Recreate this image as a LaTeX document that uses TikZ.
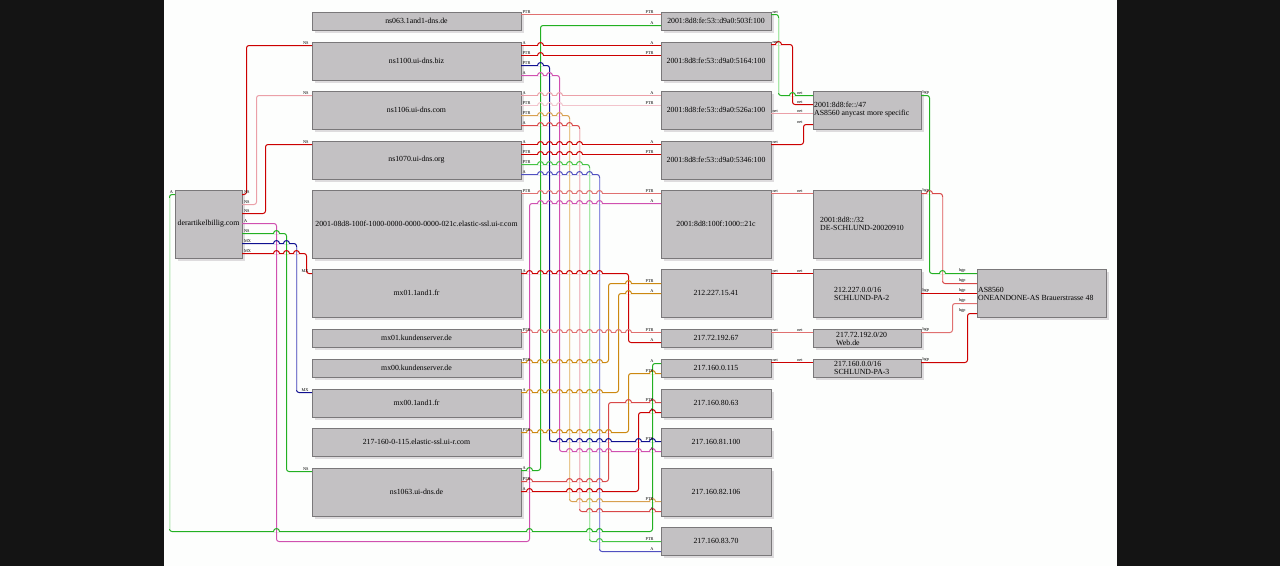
\documentclass[tikz,border=0pt]{standalone}
\usepackage{fontspec}
\setmainfont{Liberation Serif}
\usetikzlibrary{shadows}
\definecolor{barc}{HTML}{141414}
\definecolor{bgc}{HTML}{FDFEFD}
\definecolor{boxc}{HTML}{C3C1C3}
\definecolor{shadc}{HTML}{DEDCDE}
\definecolor{bordc}{HTML}{7A787A}
\definecolor{cred}{HTML}{CC0000}
\definecolor{cred2}{HTML}{D84848}
\definecolor{csal}{HTML}{E07070}
\definecolor{cpink}{HTML}{EBA0A8}
\definecolor{cpale}{HTML}{F2C4CC}
\definecolor{cmag}{HTML}{D050B0}
\definecolor{cblue}{HTML}{101090}
\definecolor{cblu2}{HTML}{5050C0}
\definecolor{cgrn}{HTML}{22B022}
\definecolor{cgrn2}{HTML}{44C444}
\definecolor{corg}{HTML}{CC8810}
\definecolor{corl}{HTML}{D8A050}
\definecolor{vgrnA}{HTML}{C8F0C8}
\definecolor{vgrnB}{HTML}{A8E8A8}
\definecolor{vbluA}{HTML}{8080D0}
\definecolor{vbluB}{HTML}{9090E0}
\definecolor{vorl}{HTML}{E8C890}
\definecolor{vred}{HTML}{F0C0C8}
\definecolor{vsal}{HTML}{E89090}
\tikzset{
  box/.style={rectangle, fill=boxc, draw=bordc, line width=0.5pt, inner sep=0pt, outer sep=0pt,
    general shadow={fill=shadc, shadow xshift=2.5pt, shadow yshift=-2.5pt},
    font=\fontsize{7.8}{8.4}\selectfont, align=center},
  txt/.style={font=\fontsize{7.8}{8}\selectfont, align=left, inner sep=0pt},
  edge/.style={line width=1pt, rounded corners=2.5pt},
  pl/.style={font=\fontsize{4.3}{5}\selectfont, inner sep=0.3pt},
  sl/.style={pl, anchor=south west, xshift=#1pt, yshift=0.3pt},
  sl/.default=1,
  el/.style={pl, anchor=south east, xshift=-#1pt, yshift=0.3pt},
  el/.default=7
}
\newcommand\bx[6]{\node[box, minimum width={#4pt-#2pt}, minimum height={#5pt-#3pt}] (#1) at ({(#2+#4)/2},{(#3+#5)/2}) {#6};}
\newcommand\hop[4]{%
  \fill[bgc] ({#1-2.8},{#2-0.9}) rectangle ({#1+2.8},{#2+0.9});
  \draw[color=#4, line width=1pt] (#1,{#2-1.4}) -- (#1,{#2+1.4});
  \draw[color=#3, line width=1pt] ({#1-3},#2) arc[start angle=180,end angle=0,radius=3pt];}
\newcommand\hoprow[3]{\foreach \hx/\vc in {#3}{\hop{\hx}{#1}{#2}{\vc}}}
\newcommand\vov[4]{\draw[color=#4, line width=1pt] (#1,#2) -- (#1,#3);}
\newcount\labn
\newcommand\lbS[4][1]{\global\advance\labn by 1 \node[sl=#1] (labS\the\labn) at (#2 |- 0,#3) {#4};}
\newcommand\lbE[4][7]{\global\advance\labn by 1 \node[el=#1] (labE\the\labn) at (#2 |- 0,#3) {#4};}
\begin{document}
\begin{tikzpicture}[x=1pt,y=-1pt]
\useasboundingbox (0,0) rectangle (1280,566);
\fill[barc] (0,0) rectangle (164,566);
\fill[bgc] (164,0) rectangle (1117,566);
\fill[barc] (1117,0) rectangle (1280,566);
% boxes
\bx{dom}{175}{190}{242}{258}{derartikelbillig.com}
\bx{n1}{312}{12}{521}{30}{ns063.1and1-dns.de}
\bx{n2}{312}{42}{521}{80}{ns1100.ui-dns.biz}
\bx{n3}{312}{91}{521}{129}{ns1106.ui-dns.com}
\bx{n4}{312}{141}{521}{179}{ns1070.ui-dns.org}
\bx{n5}{312}{190}{521}{258}{2001-08d8-100f-1000-0000-0000-0000-021c.elastic-ssl.ui-r.com}
\bx{n6}{312}{269}{521}{317}{mx01.1and1.fr}
\bx{n7}{312}{329}{521}{347}{mx01.kundenserver.de}
\bx{n8}{312}{359}{521}{377}{mx00.kundenserver.de}
\bx{n9}{312}{389}{521}{417}{mx00.1and1.fr}
\bx{n10}{312}{428}{521}{456}{217-160-0-115.elastic-ssl.ui-r.com}
\bx{n11}{312}{468}{521}{516}{ns1063.ui-dns.de}
\bx{a}{661}{12}{771}{30}{2001:8d8:fe:53::d9a0:503f:100}
\bx{b}{661}{42}{771}{80}{2001:8d8:fe:53::d9a0:5164:100}
\bx{c}{661}{91}{771}{129}{2001:8d8:fe:53::d9a0:526a:100}
\bx{d}{661}{141}{771}{179}{2001:8d8:fe:53::d9a0:5346:100}
\bx{e}{661}{190}{771}{258}{2001:8d8:100f:1000::21c}
\bx{f}{661}{269}{771}{317}{212.227.15.41}
\bx{g}{661}{329}{771}{347}{217.72.192.67}
\bx{h}{661}{359}{771}{377}{217.160.0.115}
\bx{i}{661}{389}{771}{417}{217.160.80.63}
\bx{j}{661}{428}{771}{456}{217.160.81.100}
\bx{k}{661}{468}{771}{516}{217.160.82.106}
\bx{l}{661}{527}{771}{555}{217.160.83.70}
\bx{p47}{813}{91}{921}{129}{}
\bx{p32}{813}{190}{921}{258}{}
\bx{p212}{813}{269}{921}{317}{}
\bx{p217a}{813}{329}{921}{347}{}
\bx{p217b}{813}{359}{921}{377}{}
\bx{as}{977}{269}{1106}{317}{}
\node[txt, anchor=west] (p47t) at (814,110) {2001:8d8:fe::/47\\AS8560 anycast more specific};
\node[txt, anchor=west] (p32t) at (820,224) {2001:8d8::/32\\DE-SCHLUND-20020910};
\node[txt, anchor=west] (p212t) at (834,293.5) {212.227.0.0/16\\SCHLUND-PA-2};
\node[txt, anchor=west] (p217at) at (836,338.5) {217.72.192.0/20\\Web.de};
\node[txt, anchor=west] (p217bt) at (834,367.5) {217.160.0.0/16\\SCHLUND-PA-3};
\node[txt, anchor=west] (ast) at (978,293.5) {AS8560\\ONEANDONE-AS Brauerstrasse 48};
\begin{scope}[xshift=0.5pt, yshift=-0.5pt]
% edges from the domain
\draw[edge, draw=cred] (dom.east |- 0,194) -- (246,194) -- (246,45) -- (n2.west |- 0,45);
\draw[edge, draw=cpink] (dom.east |- 0,204) -- (256,204) -- (256,95) -- (n3.west |- 0,95);
\draw[edge, draw=cred] (dom.east |- 0,213) -- (265,213) -- (265,144) -- (n4.west |- 0,144);
\draw[edge, draw=cmag] (dom.east |- 0,223) -- (276,223) -- (276,541) -- (529,541) -- (529,203) -- (e.west |- 0,203);
\draw[edge, draw=cgrn] (dom.east |- 0,233) -- (286,233) -- (286,471) -- (n11.west |- 0,471);
\draw[edge, draw=cblue] (dom.east |- 0,243) -- (296,243) -- (296,392) -- (n9.west |- 0,392);
\draw[edge, draw=cred] (dom.east |- 0,253) -- (306,253) -- (306,273) -- (n6.west |- 0,273);
\draw[edge, draw=cgrn] (dom.west |- 0,194) -- (169,194) -- (169,531) -- (652,531) -- (652,363) -- (h.west |- 0,363);
% hostnames to addresses
\draw[edge, draw=csal] (n1.east |- 0,14) -- (a.west |- 0,14);
\draw[edge, draw=cgrn] (n11.east |- 0,470) -- (540,470) -- (540,25) -- (a.west |- 0,25);
\draw[edge, draw=cred] (n2.east |- 0,45) -- (b.west |- 0,45);
\draw[edge, draw=cred] (n2.east |- 0,55) -- (b.west |- 0,55);
\draw[edge, draw=cblue] (n2.east |- 0,65) -- (549,65) -- (549,441) -- (j.west |- 0,441);
\draw[edge, draw=cmag] (n2.east |- 0,75) -- (559,75) -- (559,451) -- (j.west |- 0,451);
\draw[edge, draw=cpink] (n3.east |- 0,95) -- (c.west |- 0,95);
\draw[edge, draw=cpale] (n3.east |- 0,105) -- (c.west |- 0,105);
\draw[edge, draw=corl] (n3.east |- 0,115) -- (569,115) -- (569,501) -- (k.west |- 0,501);
\draw[edge, draw=cred2] (n3.east |- 0,125) -- (579,125) -- (579,511) -- (k.west |- 0,511);
\draw[edge, draw=cred] (n4.east |- 0,144) -- (d.west |- 0,144);
\draw[edge, draw=cred] (n4.east |- 0,154) -- (d.west |- 0,154);
\draw[edge, draw=cgrn2] (n4.east |- 0,164) -- (589,164) -- (589,541) -- (l.west |- 0,541);
\draw[edge, draw=cblu2] (n4.east |- 0,174) -- (599,174) -- (599,551) -- (l.west |- 0,551);
\draw[edge, draw=csal] (n5.east |- 0,193) -- (e.west |- 0,193);
\draw[edge, draw=cred] (n6.east |- 0,273) -- (628,273) -- (628,342) -- (g.west |- 0,342);
\draw[edge, draw=csal] (n7.east |- 0,332) -- (g.west |- 0,332);
\draw[edge, draw=corg] (n8.east |- 0,362) -- (608,362) -- (608,283) -- (f.west |- 0,283);
\draw[edge, draw=corg] (n9.east |- 0,392) -- (618,392) -- (618,293) -- (f.west |- 0,293);
\draw[edge, draw=corg] (n10.east |- 0,432) -- (628,432) -- (628,373) -- (h.west |- 0,373);
\draw[edge, draw=cred2] (n11.east |- 0,481) -- (608,481) -- (608,402) -- (i.west |- 0,402);
\draw[edge, draw=cred] (n11.east |- 0,491) -- (638,491) -- (638,412) -- (i.west |- 0,412);
% addresses to prefixes
\draw[edge, draw=cgrn] (a.east |- 0,14) -- (778,14) -- (778,95) -- (p47.west |- 0,95);
\draw[edge, draw=cred] (b.east |- 0,44) -- (792,44) -- (792,104) -- (p47.west |- 0,104);
\draw[edge, draw=cpink] (c.east |- 0,113) -- (p47.west |- 0,113);
\draw[edge, draw=cred] (d.east |- 0,144) -- (803,144) -- (803,124) -- (p47.west |- 0,124);
\draw[edge, draw=csal] (e.east |- 0,193) -- (p32.west |- 0,193);
\draw[edge, draw=cred] (f.east |- 0,273) -- (p212.west |- 0,273);
\draw[edge, draw=csal] (g.east |- 0,332) -- (p217a.west |- 0,332);
\draw[edge, draw=cred] (h.east |- 0,362) -- (p217b.west |- 0,362);
% prefixes to AS
\draw[edge, draw=cgrn] (p47.east |- 0,95) -- (929,95) -- (929,273) -- (as.west |- 0,273);
\draw[edge, draw=cred2] (p32.east |- 0,193) -- (942,193) -- (942,283) -- (as.west |- 0,283);
\draw[edge, draw=cred] (p212.east |- 0,293) -- (as.west |- 0,293);
\draw[edge, draw=csal] (p217a.east |- 0,332) -- (952,332) -- (952,303) -- (as.west |- 0,303);
\draw[edge, draw=cred] (p217b.east |- 0,362) -- (967,362) -- (967,313) -- (as.west |- 0,313);
% lighter vertical runs, as in the picture
\vov{169}{197}{528}{vgrnA}
\vov{296}{246}{389}{vbluA}
\vov{569}{118}{498}{vorl}
\vov{579}{128}{508}{vred}
\vov{589}{167}{538}{vgrnB}
\vov{599}{177}{548}{vbluB}
\vov{778}{17}{92}{vgrnB}
\vov{942}{196}{280}{vsal}
% line jumps
\hoprow{233}{cgrn}{276/cmag}
\hoprow{243}{cblue}{276/cmag,286/cgrn}
\hoprow{253}{cred}{276/cmag,286/cgrn,296/vbluA}
\hoprow{531}{cgrn}{276/cmag,529/cmag,589/vgrnB,599/vbluB}
\hoprow{45}{cred}{540/cgrn}
\hoprow{55}{cred}{540/cgrn}
\hoprow{65}{cblue}{540/cgrn}
\hoprow{75}{cmag}{540/cgrn,549/cblue}
\hoprow{95}{cpink}{540/cgrn,549/cblue,559/cmag}
\hoprow{105}{cpale}{540/cgrn,549/cblue,559/cmag}
\hoprow{115}{corl}{540/cgrn,549/cblue,559/cmag}
\hoprow{125}{cred2}{540/cgrn,549/cblue,559/cmag,569/vorl}
\hoprow{144}{cred}{540/cgrn,549/cblue,559/cmag,569/vorl,579/vred}
\hoprow{154}{cred}{540/cgrn,549/cblue,559/cmag,569/vorl,579/vred}
\hoprow{164}{cgrn2}{540/cgrn,549/cblue,559/cmag,569/vorl,579/vred}
\hoprow{174}{cblu2}{540/cgrn,549/cblue,559/cmag,569/vorl,579/vred,589/vgrnB}
\hoprow{193}{csal}{540/cgrn,549/cblue,559/cmag,569/vorl,579/vred,589/vgrnB,599/vbluB}
\hoprow{203}{cmag}{540/cgrn,549/cblue,559/cmag,569/vorl,579/vred,589/vgrnB,599/vbluB}
\hoprow{273}{cred}{529/cmag,540/cgrn,549/cblue,559/cmag,569/vorl,579/vred,589/vgrnB,599/vbluB}
\hoprow{283}{corg}{628/cred}
\hoprow{293}{corg}{628/cred}
\hoprow{332}{csal}{529/cmag,540/cgrn,549/cblue,559/cmag,569/vorl,579/vred,589/vgrnB,599/vbluB,608/corg,618/corg,628/cred}
\hoprow{362}{corg}{529/cmag,540/cgrn,549/cblue,559/cmag,569/vorl,579/vred,589/vgrnB,599/vbluB}
\hoprow{373}{corg}{652/cgrn}
\hoprow{392}{corg}{529/cmag,540/cgrn,549/cblue,559/cmag,569/vorl,579/vred,589/vgrnB,599/vbluB}
\hoprow{402}{cred2}{628/corg,652/cgrn}
\hoprow{412}{cred}{652/cgrn}
\hoprow{432}{corg}{529/cmag,540/cgrn,549/cblue,559/cmag,569/vorl,579/vred,589/vgrnB,599/vbluB,608/cred2}
\hoprow{441}{cblue}{559/cmag,569/vorl,579/vred,589/vgrnB,599/vbluB,608/cred2,638/cred,652/cgrn}
\hoprow{451}{cmag}{569/vorl,579/vred,589/vgrnB,599/vbluB,608/cred2,638/cred,652/cgrn}
\hoprow{470}{cgrn}{529/cmag}
\hoprow{481}{cred2}{529/cmag,569/vorl,579/vred,589/vgrnB,599/vbluB}
\hoprow{491}{cred}{529/cmag,569/vorl,579/vred,589/vgrnB,599/vbluB}
\hoprow{501}{corl}{579/vred,589/vgrnB,599/vbluB,652/cgrn}
\hoprow{511}{cred2}{589/vgrnB,599/vbluB,652/cgrn}
\hoprow{541}{cgrn2}{599/vbluB}
\hoprow{44}{cred}{778/vgrnB}
\hoprow{95}{cgrn}{792/cred}
\hoprow{193}{cred2}{929/cgrn}
\hoprow{273}{cgrn}{942/vsal}
\end{scope}
% port labels
\lbS[1.5]{dom.east}{194}{NS}
\lbS[1.5]{dom.east}{204}{NS}
\lbS[1.5]{dom.east}{213}{NS}
\lbS[1.5]{dom.east}{223}{A}
\lbS[1.5]{dom.east}{233}{NS}
\lbS[1.5]{dom.east}{243}{MX}
\lbS[1.5]{dom.east}{253}{MX}
\lbE[1.5]{dom.west}{194}{A}
\lbE[3]{n2.west}{45}{NS}
\lbE[3]{n3.west}{95}{NS}
\lbE[3]{n4.west}{144}{NS}
\lbE[3]{n6.west}{273}{MX}
\lbE[3]{n9.west}{392}{MX}
\lbE[3]{n11.west}{471}{NS}
\lbS{n1.east}{14}{PTR}
\lbS{n2.east}{45}{A}
\lbS{n2.east}{55}{PTR}
\lbS{n2.east}{65}{PTR}
\lbS{n2.east}{75}{A}
\lbS{n3.east}{95}{A}
\lbS{n3.east}{105}{PTR}
\lbS{n3.east}{115}{PTR}
\lbS{n3.east}{125}{A}
\lbS{n4.east}{144}{A}
\lbS{n4.east}{154}{PTR}
\lbS{n4.east}{164}{PTR}
\lbS{n4.east}{174}{A}
\lbS{n5.east}{193}{PTR}
\lbS{n6.east}{273}{A}
\lbS{n7.east}{332}{PTR}
\lbS{n8.east}{362}{PTR}
\lbS{n9.east}{392}{A}
\lbS{n10.east}{432}{PTR}
\lbS{n11.east}{470}{A}
\lbS{n11.east}{481}{PTR}
\lbS{n11.east}{491}{A}
\lbE{a.west}{14}{PTR}
\lbE{a.west}{25}{A}
\lbE{b.west}{45}{A}
\lbE{b.west}{55}{PTR}
\lbE{c.west}{95}{A}
\lbE{c.west}{105}{PTR}
\lbE{d.west}{144}{A}
\lbE{d.west}{154}{PTR}
\lbE{e.west}{193}{PTR}
\lbE{e.west}{203}{A}
\lbE{f.west}{283}{PTR}
\lbE{f.west}{293}{A}
\lbE{g.west}{332}{PTR}
\lbE{g.west}{342}{A}
\lbE{h.west}{363}{A}
\lbE{h.west}{373}{PTR}
\lbE{i.west}{402}{PTR}
\lbE{i.west}{412}{A}
\lbE{j.west}{441}{PTR}
\lbE{j.west}{451}{A}
\lbE{k.west}{501}{PTR}
\lbE{k.west}{511}{A}
\lbE{l.west}{541}{PTR}
\lbE{l.west}{551}{A}
\lbS{a.east}{14}{net}
\lbS{b.east}{44}{net}
\lbS{c.east}{113}{net}
\lbS{d.east}{144}{net}
\lbS{e.east}{193}{net}
\lbS{f.east}{273}{net}
\lbS{g.east}{332}{net}
\lbS{h.east}{362}{net}
\lbE[10]{p47.west}{95}{net}
\lbE[10]{p47.west}{104}{net}
\lbE[10]{p47.west}{113}{net}
\lbE[10]{p47.west}{124}{net}
\lbE[10]{p32.west}{193}{net}
\lbE[10]{p212.west}{273}{net}
\lbE[10]{p217a.west}{332}{net}
\lbE[10]{p217b.west}{362}{net}
\lbS{p47.east}{95}{bgp}
\lbS{p32.east}{193}{bgp}
\lbS{p212.east}{293}{bgp}
\lbS{p217a.east}{332}{bgp}
\lbS{p217b.east}{362}{bgp}
\lbE[11]{as.west}{273}{bgp}
\lbE[11]{as.west}{283}{bgp}
\lbE[11]{as.west}{293}{bgp}
\lbE[11]{as.west}{303}{bgp}
\lbE[11]{as.west}{313}{bgp}
\end{tikzpicture}
\end{document}
